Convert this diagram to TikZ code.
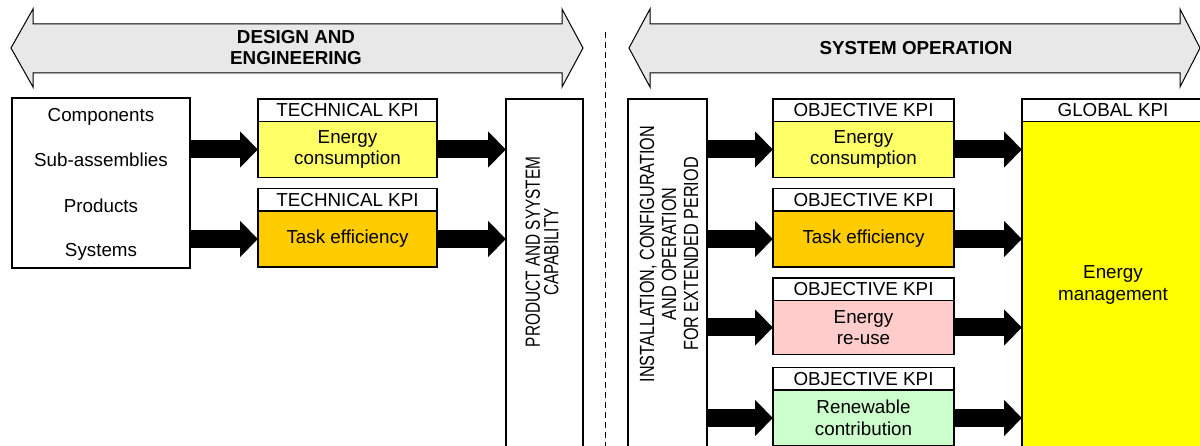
\documentclass[tikz,border=0pt]{standalone}
\usepackage{fontspec}
\setmainfont{Liberation Sans}
\usetikzlibrary{arrows.meta}
\definecolor{ylight}{HTML}{FFFF66}
\definecolor{orng}{HTML}{FFCC00}
\definecolor{pnk}{HTML}{FFCCCC}
\definecolor{grn}{HTML}{CCFFCC}
\definecolor{ybright}{HTML}{FFFF00}
\definecolor{agray}{HTML}{E8E8E8}
\newcommand{\narrowline}[2]{\scalebox{#1}[1]{#2}}
\begin{document}
\begin{tikzpicture}[x=1pt,y=-1pt,
  txt/.style={font=\fontsize{18.8}{21.5}\selectfont, align=center, inner sep=0pt},
  hd/.style={font=\bfseries\fontsize{18.8}{21}\selectfont, align=center, inner sep=0pt},
  box/.style={draw, line width=1.1pt, inner sep=0pt, outer sep=0pt, anchor=north west,
    font=\fontsize{18.8}{21.5}\selectfont, align=center},
  hdbox/.style={box, fill=white, minimum width=#1, minimum height=22.5pt},
  bodybox/.style={box, minimum width=#1, minimum height=56pt},
  blk/.style={line width=18pt, -{Triangle[length=18pt,width=35pt]}},
  bigarrow/.style={draw, line width=1pt, fill=agray, line join=miter}
]
\useasboundingbox (0,0) rectangle (1200,446);
\clip (0,0) rectangle (1200,446);

% big double arrows
\draw[bigarrow] (11,48) -- (33,9) -- (33,24) -- (562,24) -- (562,9) -- (583,48)
  -- (562,87) -- (562,73) -- (33,73) -- (33,87) -- cycle;
\node[hd] (design) at (296,48) {DESIGN AND\\ENGINEERING};
\draw[bigarrow] (629,48) -- (650,9) -- (650,24) -- (1180,24) -- (1180,9) -- (1200,48)
  -- (1180,87) -- (1180,73) -- (650,73) -- (650,87) -- cycle;
\node[hd] (sysop) at (916,48) {SYSTEM OPERATION};

% dashed separator
\draw[line width=1pt, dash pattern=on 6pt off 4pt] (605.5,32) -- (605.5,446);

% left input box
\node[box, minimum width=178pt, minimum height=170pt] (lbox) at (12,98) {};
\node[txt] (c1) at (101,117) {Components};
\node[txt] (c2) at (101,160) {Sub-assemblies};
\node[txt] (c3) at (101,206) {Products};
\node[txt] (c4) at (101,252) {Systems};

% technical KPIs
\node[hdbox=179pt] (th1) at (258,99) {TECHNICAL KPI};
\node[bodybox=179pt, fill=ylight] (tb1) at (th1.south west) {Energy\\consumption};
\node[hdbox=179pt] (th2) at (258,188.5) {TECHNICAL KPI};
\node[bodybox=179pt, fill=orng] (tb2) at (th2.south west) {Task efficiency};

% product box
\node[box, minimum width=77pt, minimum height=360pt] (prod) at (506,99) {};
\node[txt, font=\fontsize{20.5}{18.5}\selectfont, rotate=90] (prodt) at (542,252)
  {\narrowline{0.75}{PRODUCT AND SYYSTEM}\\\narrowline{0.75}{CAPABILITY}};

\draw[blk] (lbox.east |- tb1.center) -- (tb1.west);
\draw[blk] (lbox.east |- tb2.center) -- (tb2.west);
\draw[blk] (tb1.east) -- (prod.west |- tb1.center);
\draw[blk] (tb2.east) -- (prod.west |- tb2.center);

% installation box
\node[box, minimum width=79pt, minimum height=360pt] (inst) at (628,99) {};
\node[txt, font=\fontsize{20.5}{22}\selectfont, rotate=90] (instt) at (669,254)
  {\narrowline{0.79}{INSTALLATION, CONFIGURATION}\\\narrowline{0.79}{AND OPERATION}\\\narrowline{0.79}{FOR EXTENDED PERIOD}};

% objective KPIs
\node[hdbox=181pt] (oh1) at (773,99) {OBJECTIVE KPI};
\node[bodybox=181pt, fill=ylight] (ob1) at (oh1.south west) {Energy\\consumption};
\node[hdbox=181pt] (oh2) at (773,188.5) {OBJECTIVE KPI};
\node[bodybox=181pt, fill=orng] (ob2) at (oh2.south west) {Task efficiency};
\node[hdbox=181pt] (oh3) at (773,278) {OBJECTIVE KPI};
\node[bodybox=181pt, minimum height=54pt, fill=pnk] (ob3) at (oh3.south west) {Energy\\re-use};
\node[hdbox=181pt] (oh4) at (773,367.5) {OBJECTIVE KPI};
\node[bodybox=181pt, fill=grn] (ob4) at (oh4.south west) {Renewable\\contribution};

% global KPI
\node[hdbox=182pt] (gh) at (1022,99) {GLOBAL KPI};
\node[box, minimum width=182pt, minimum height=330pt, fill=ybright] (gb) at (gh.south west) {};
\node[txt] (gbt) at (gb.center |- 0,285) {Energy\\management};

\foreach \b in {ob1,ob2,ob3,ob4}{
  \draw[blk] (inst.east |- \b.center) -- (\b.west);
  \draw[blk] (\b.east) -- (gb.west |- \b.center);
}
\end{tikzpicture}
\end{document}
